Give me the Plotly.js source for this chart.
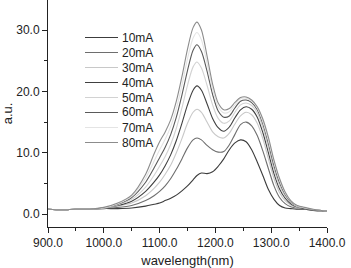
<!DOCTYPE html>
<html>
<head>
<meta charset="utf-8">
<script src="https://cdn.plot.ly/plotly-3.0.1.min.js"></script>
<style>html,body{margin:0;padding:0;background:#fff;}#chart{width:351px;height:268px;}</style>
</head>
<body>
<div id="chart"></div>
<script>
var wavelength = [900, 925, 950, 975, 1000, 1025, 1050, 1075, 1090, 1100, 1110, 1120, 1130, 1140, 1150, 1160, 1167, 1175, 1185, 1195, 1205, 1215, 1225, 1235, 1245, 1255, 1265, 1275, 1285, 1295, 1305, 1315, 1325, 1335, 1345, 1360, 1375, 1390, 1400];

var s10mA = [0.8, 0.7, 0.8, 0.8, 0.9, 0.9, 1.0, 1.3, 1.6, 1.8, 2.2, 2.6, 3.1, 3.8, 4.6, 5.6, 6.3, 6.7, 6.6, 6.9, 7.8, 9.0, 10.5, 11.6, 12.1, 11.8, 10.5, 8.5, 6.3, 4.0, 2.4, 1.4, 1.0, 0.9, 0.8, 0.8, 0.6, 0.5, 0.5];
var s20mA = [0.8, 0.7, 0.8, 0.8, 1.0, 1.1, 1.4, 2.2, 3.0, 3.7, 4.6, 5.8, 7.3, 9.0, 10.8, 12.1, 12.4, 12.1, 11.2, 10.5, 10.1, 10.2, 11.3, 13.0, 14.6, 15.0, 14.4, 12.8, 10.3, 7.4, 4.6, 2.7, 1.7, 1.2, 1.0, 0.8, 0.7, 0.6, 0.5];
var s30mA = [0.8, 0.7, 0.8, 0.8, 1.0, 1.3, 1.8, 3.0, 4.2, 5.2, 6.5, 8.0, 10.0, 12.3, 14.8, 16.6, 17.1, 16.6, 15.0, 13.4, 12.6, 12.4, 13.2, 14.7, 16.0, 16.6, 16.2, 14.8, 12.3, 9.0, 5.8, 3.5, 2.2, 1.5, 1.1, 0.9, 0.7, 0.6, 0.5];
var s40mA = [0.8, 0.7, 0.8, 0.8, 1.0, 1.4, 2.1, 3.7, 5.2, 6.4, 7.9, 9.7, 12.0, 14.8, 17.8, 20.2, 20.9, 20.2, 18.0, 15.6, 14.1, 13.5, 14.2, 15.7, 17.0, 17.5, 17.1, 15.8, 13.3, 10.0, 6.6, 4.1, 2.6, 1.7, 1.2, 0.9, 0.7, 0.6, 0.5];
var s50mA = [0.8, 0.7, 0.8, 0.8, 1.0, 1.5, 2.4, 4.4, 6.3, 7.8, 9.4, 11.4, 14.0, 17.3, 21.0, 24.0, 24.8, 23.8, 21.0, 17.8, 15.6, 14.8, 15.2, 16.6, 17.8, 18.1, 17.7, 16.5, 14.1, 10.8, 7.3, 4.6, 2.9, 1.9, 1.3, 1.0, 0.7, 0.6, 0.5];
var s60mA = [0.8, 0.7, 0.8, 0.8, 1.0, 1.6, 2.7, 5.2, 7.5, 9.2, 10.9, 13.0, 15.8, 19.4, 23.4, 26.7, 27.6, 26.5, 23.3, 19.5, 16.8, 15.8, 16.0, 17.3, 18.4, 18.6, 18.2, 17.0, 14.7, 11.5, 7.9, 5.1, 3.2, 2.0, 1.4, 1.0, 0.7, 0.6, 0.5];
var s70mA = [0.8, 0.7, 0.8, 0.8, 1.0, 1.7, 2.9, 5.9, 8.6, 10.5, 12.2, 14.3, 17.2, 21.0, 25.3, 28.7, 29.6, 28.4, 24.6, 20.4, 17.5, 16.5, 16.7, 17.8, 18.8, 18.9, 18.4, 17.3, 15.1, 12.0, 8.4, 5.5, 3.4, 2.1, 1.4, 1.0, 0.8, 0.6, 0.5];
var s80mA = [0.8, 0.7, 0.8, 0.8, 1.1, 1.8, 3.1, 6.5, 9.8, 11.8, 13.4, 15.4, 18.4, 22.4, 26.9, 30.4, 31.3, 30.0, 25.8, 21.2, 18.1, 17.0, 17.2, 18.2, 19.0, 19.1, 18.6, 17.5, 15.5, 12.5, 8.8, 5.8, 3.6, 2.2, 1.5, 1.1, 0.8, 0.6, 0.5];

var seriesNames = ["10mA", "20mA", "30mA", "40mA", "50mA", "60mA", "70mA", "80mA"];
var seriesValues = [s10mA, s20mA, s30mA, s40mA, s50mA, s60mA, s70mA, s80mA];
var seriesColors = ["#3c3c3c", "#6e6e6e", "#c8c8c8", "#404040", "#d2d2d2", "#5a5a5a", "#e4e4e4", "#8c8c8c"];

var xTicks = [900, 1000, 1100, 1200, 1300, 1400];
var xTickText = ["900.0", "1000.0", "1100.0", "1200.0", "1300.0", "1400.0"];
var yTicks = [0, 10, 20, 30];
var yTickText = ["0.0", "10.0", "20.0", "30.0"];

var traces = seriesNames.map(function(n, i) {
  return {
    x: wavelength, y: seriesValues[i], name: n, type: "scatter", mode: "lines",
    line: {color: seriesColors[i], width: 1.1, shape: "spline", smoothing: 0.8}
  };
});

// Legend drawn as paper-referenced shapes + annotations (compact row spacing)
var plotW = 279, plotH = 227, plotL = 48;
var legX0 = (85 - plotL) / plotW, legX1 = (118 - plotL) / plotW, legTX = (120 - plotL) / plotW;
var shapes = [], annotations = [];
seriesNames.forEach(function(n, i) {
  var yp = 1 - (37.5 + 15 * i) / plotH;
  shapes.push({type: "line", xref: "paper", yref: "paper", x0: legX0, x1: legX1, y0: yp, y1: yp,
               line: {color: seriesColors[i], width: 1.2}});
  annotations.push({xref: "paper", yref: "paper", x: legTX, y: yp, xanchor: "left", yanchor: "middle",
                    text: n, showarrow: false,
                    font: {family: "Liberation Sans, Arial, sans-serif", size: 12, color: "#222"}});
});

var font = {family: "Liberation Sans, Arial, sans-serif", size: 12, color: "#222"};
var layout = {
  width: 351, height: 268,
  margin: {l: 48, r: 24, t: 0, b: 41},
  paper_bgcolor: "#fff", plot_bgcolor: "#fff",
  font: font,
  showlegend: false,
  shapes: shapes,
  annotations: annotations,
  xaxis: {
    range: [900, 1400], tickvals: xTicks, ticktext: xTickText,
    showline: true, linecolor: "#222", linewidth: 1, showgrid: false, zeroline: false,
    ticks: "outside", ticklen: 5, tickcolor: "#222", tickfont: {size: 12},
    minor: {dtick: 50, ticks: "outside", ticklen: 3, tickcolor: "#222", showgrid: false},
    title: {text: "wavelength(nm)", font: {family: font.family, size: 13, color: "#222"}, standoff: 13}
  },
  yaxis: {
    range: [-2.1, 34.9], tickvals: yTicks, ticktext: yTickText,
    showline: true, linecolor: "#222", linewidth: 1, showgrid: false, zeroline: false,
    ticks: "outside", ticklen: 5, tickcolor: "#222", tickfont: {size: 12},
    minor: {dtick: 5, ticks: "outside", ticklen: 3, tickcolor: "#222", showgrid: false},
    title: {text: "a.u.", font: {family: font.family, size: 13, color: "#222"}, standoff: 0}
  }
};
Plotly.newPlot("chart", traces, layout, {displayModeBar: false, staticPlot: true});
</script>
</body>
</html>
